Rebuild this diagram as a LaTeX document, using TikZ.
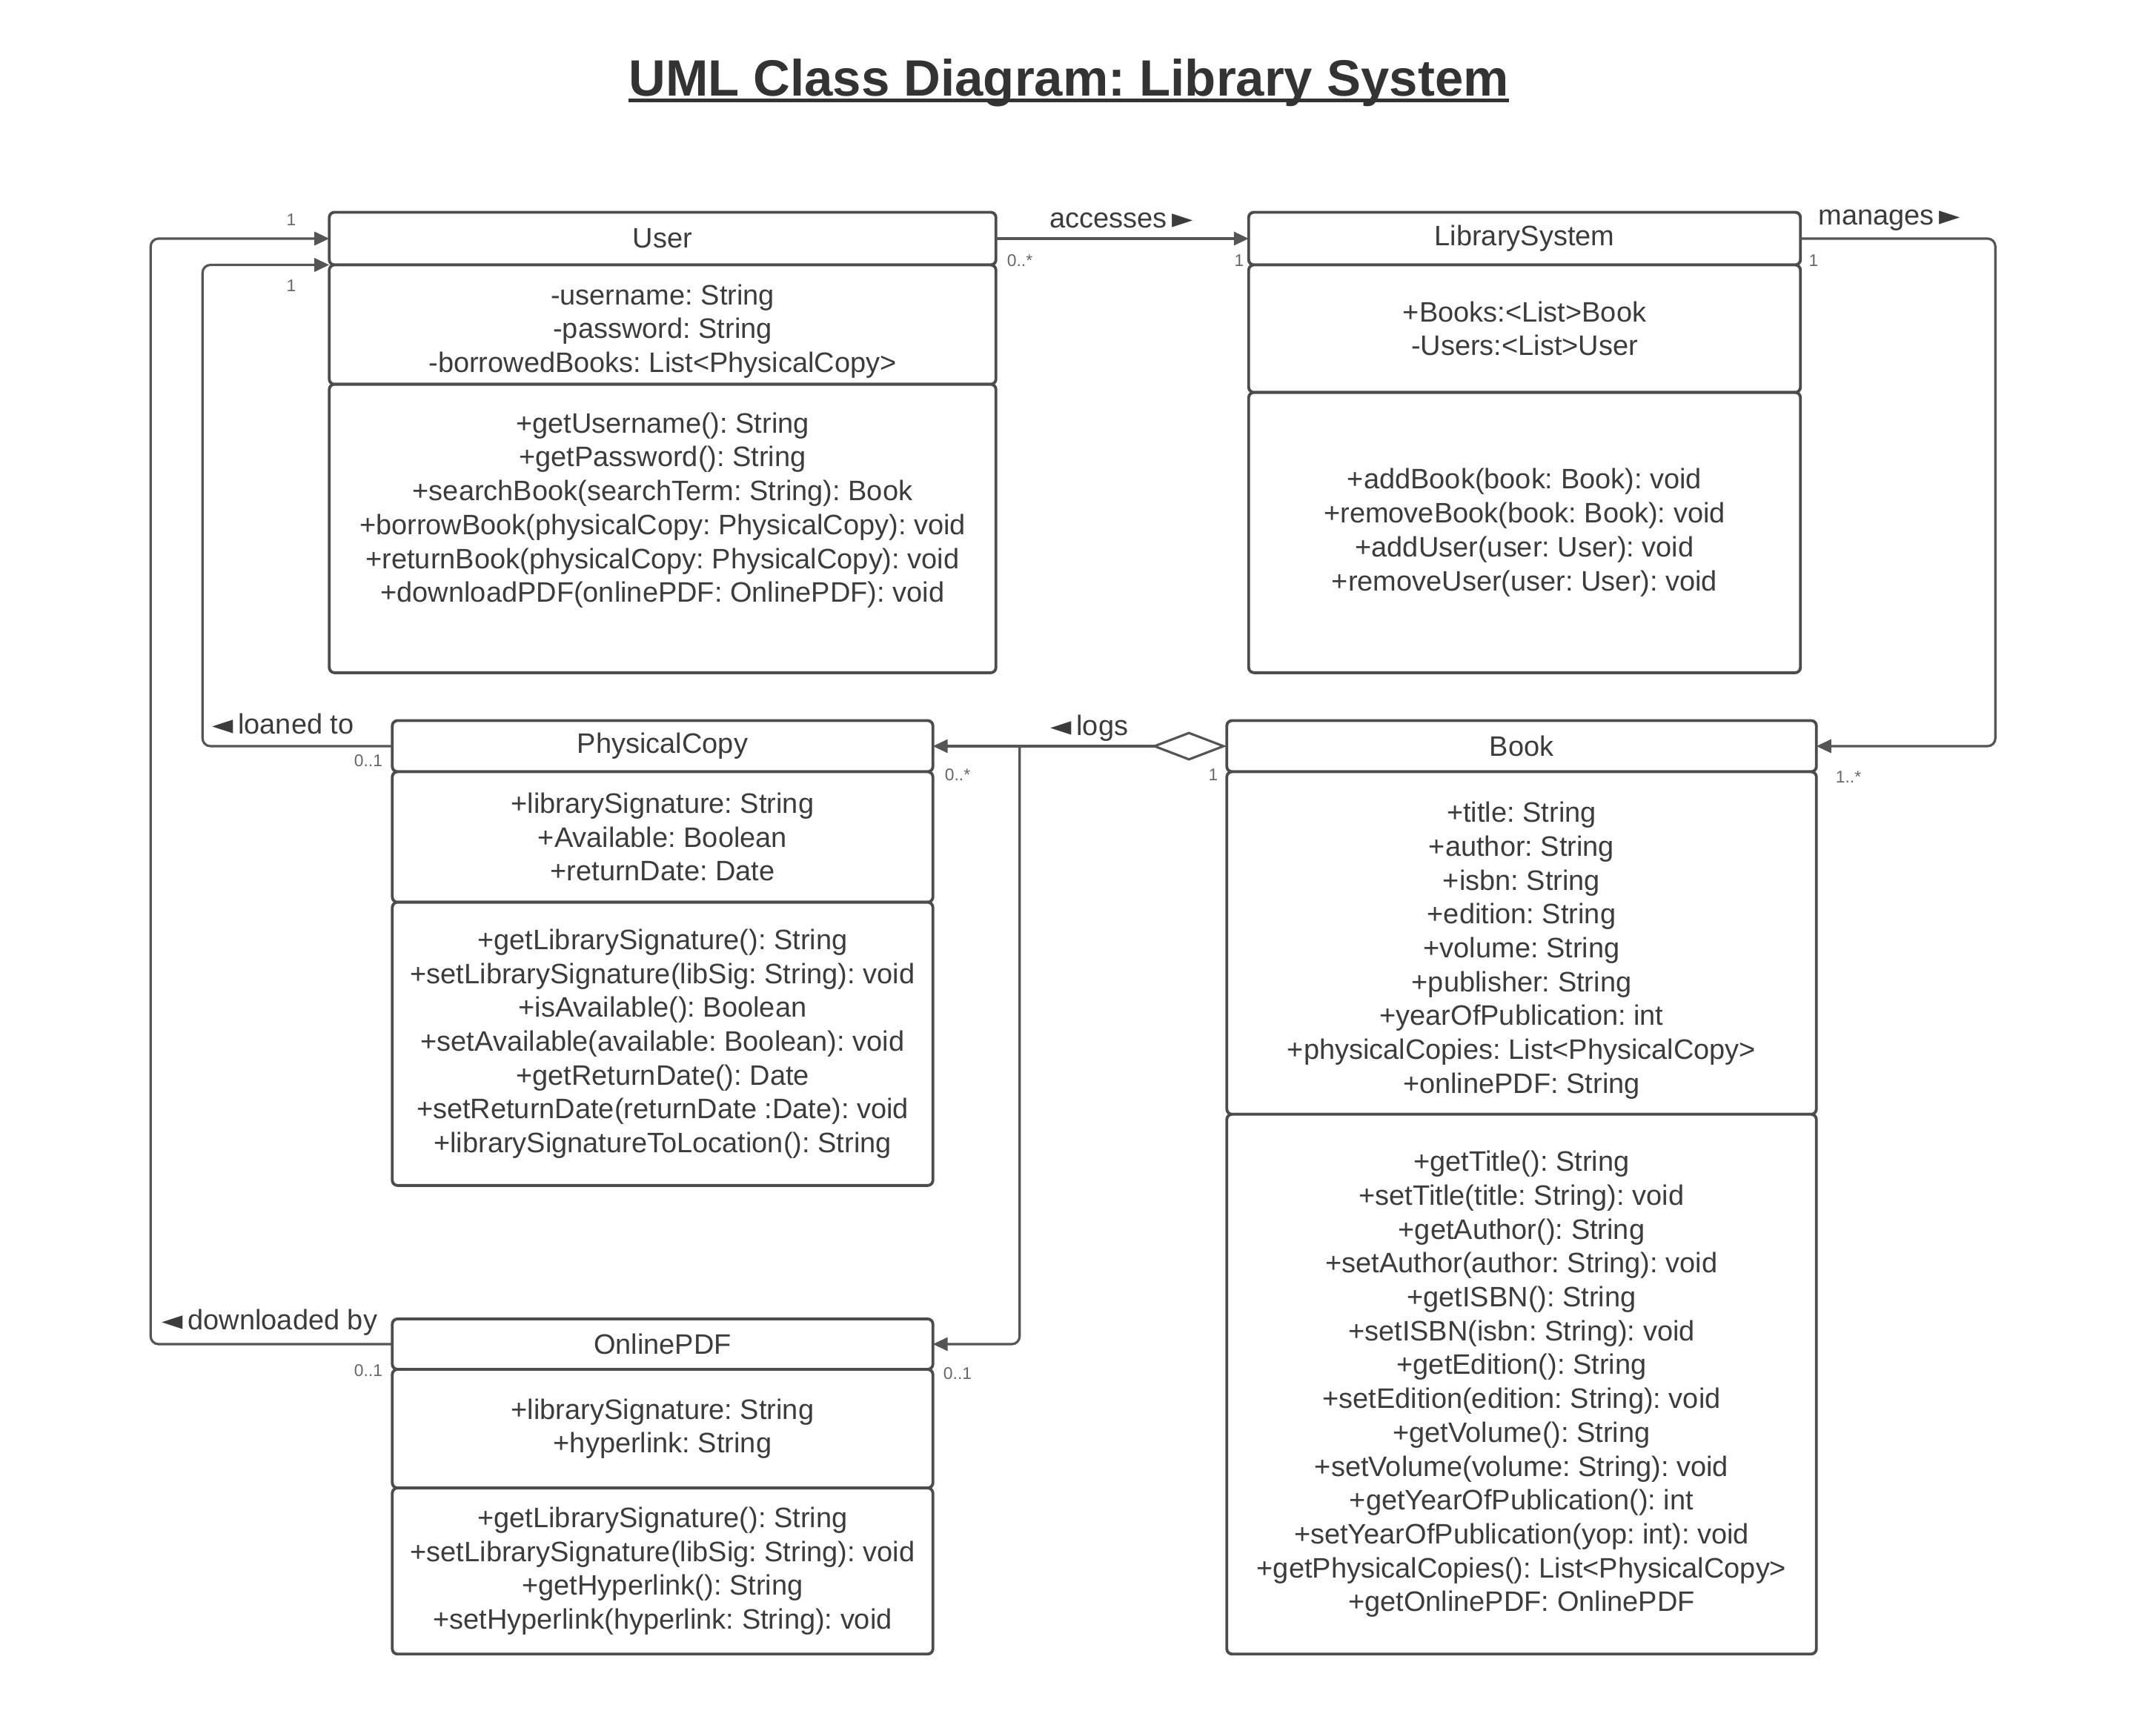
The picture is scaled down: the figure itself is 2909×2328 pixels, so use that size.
\documentclass[tikz,border=0pt]{standalone}
\usepackage{fontspec}
\setmainfont{Liberation Sans}
\newfontfamily\symfont{DejaVu Sans}
\usetikzlibrary{positioning,arrows.meta,calc}
\definecolor{umlline}{HTML}{555555}
\definecolor{umltext}{HTML}{3C3C3C}
\newcommand{\rtri}{{\symfont\fontsize{10.5}{12}\selectfont ►}}
\newcommand{\ltri}{{\symfont\fontsize{10.5}{12}\selectfont ◄}}
\frenchspacing

\begin{document}
\begin{tikzpicture}[x=0.01cm,y=-0.01cm,
    font=\fontsize{10.8}{13}\selectfont,text=umltext,
    >={Triangle[length=0.2cm,width=0.18cm]},
    box/.style={draw=black!70,line width=1.1pt,rounded corners=2pt,fill=white,
        align=center,inner sep=0pt,outer sep=0pt},
    assoc/.style={draw=umlline,line width=0.9pt,rounded corners=3pt,->},
    mult/.style={font=\fontsize{6.5}{7}\selectfont,text=black!60}]
    \useasboundingbox (0,0) rectangle (2909,2328);

    \node[anchor=base,inner sep=0pt,text=black!80,font=\fontsize{19.6}{24}\selectfont\bfseries]
        (title) at (1442,130) {UML Class Diagram: Library System};
    \draw[line width=1.6pt,black!80] ([yshift=-1.6pt]title.base west) -- ([yshift=-1.6pt]title.base east);

    % User
    \node[box,minimum width=8.99cm,minimum height=0.71cm] (user) at (894,322) {User};
    \node[box,minimum width=8.99cm,minimum height=1.61cm,below=0pt of user] (user-attr)
        {\rule{0pt}{13pt}-username: String\\-password: String\\-borrowedBooks: List<PhysicalCopy>};
    \node[box,minimum width=8.99cm,minimum height=3.89cm,below=0pt of user-attr] (user-ops)
        {+getUsername(): String\\+getPassword(): String\\+searchBook(searchTerm: String): Book\\
         +borrowBook(physicalCopy: PhysicalCopy): void\\+returnBook(physicalCopy: PhysicalCopy): void\\
         +downloadPDF(onlinePDF: OnlinePDF): void\\[0.3em]\mbox{}};

    % LibrarySystem
    \node[box,minimum width=7.44cm,minimum height=0.71cm] (libsys) at (2057,322) {LibrarySystem};
    \node[box,minimum width=7.44cm,minimum height=1.72cm,below=0pt of libsys] (libsys-attr)
        {+Books:<List>Book\\-Users:<List>User};
    \node[box,minimum width=7.44cm,minimum height=3.78cm,below=0pt of libsys-attr] (libsys-ops)
        {+addBook(book: Book): void\\+removeBook(book: Book): void\\
         +addUser(user: User): void\\+removeUser(user: User): void};

    % PhysicalCopy
    \node[box,minimum width=7.29cm,minimum height=0.69cm] (pcopy) at (894,1007) {PhysicalCopy};
    \node[box,minimum width=7.29cm,minimum height=1.76cm,below=0pt of pcopy] (pcopy-attr)
        {+librarySignature: String\\+Available: Boolean\\+returnDate: Date};
    \node[box,minimum width=7.29cm,minimum height=3.82cm,below=0pt of pcopy-attr] (pcopy-ops)
        {+getLibrarySignature(): String\\+setLibrarySignature(libSig: String): void\\
         +isAvailable(): Boolean\\+setAvailable(available: Boolean): void\\
         +getReturnDate(): Date\\+setReturnDate(returnDate :Date): void\\
         +librarySignatureToLocation(): String};

    % Book
    \node[box,minimum width=7.95cm,minimum height=0.69cm] (book) at (2053,1007) {Book};
    \node[box,minimum width=7.95cm,minimum height=4.62cm,below=0pt of book] (book-attr)
        {\rule{0pt}{13.5pt}+title: String\\+author: String\\+isbn: String\\+edition: String\\+volume: String\\
         +publisher: String\\+yearOfPublication: int\\+physicalCopies: List<PhysicalCopy>\\
         +onlinePDF: String};
    \node[box,minimum width=7.95cm,minimum height=7.28cm,below=0pt of book-attr] (book-ops)
        {+getTitle(): String\\+setTitle(title: String): void\\+getAuthor(): String\\
         +setAuthor(author: String): void\\+getISBN(): String\\+setISBN(isbn: String): void\\
         +getEdition(): String\\+setEdition(edition: String): void\\+getVolume(): String\\
         +setVolume(volume: String): void\\+getYearOfPublication(): int\\
         +setYearOfPublication(yop: int): void\\+getPhysicalCopies(): List<PhysicalCopy>\\
         +getOnlinePDF: OnlinePDF};

    % OnlinePDF
    \node[box,minimum width=7.29cm,minimum height=0.68cm] (pdf) at (894,1814) {OnlinePDF};
    \node[box,minimum width=7.29cm,minimum height=1.60cm,below=0pt of pdf] (pdf-attr)
        {+librarySignature: String\\+hyperlink: String};
    \node[box,minimum width=7.29cm,minimum height=2.24cm,below=0pt of pdf-attr] (pdf-ops)
        {+getLibrarySignature(): String\\+setLibrarySignature(libSig: String): void\\
         +getHyperlink(): String\\+setHyperlink(hyperlink: String): void};

    % associations
    \draw[assoc] (user.east) -- (libsys.west);
    \draw[assoc] (libsys.east) -- ++(263,0) |- (book.east);
    \draw[assoc,{Diamond[open,length=1.02cm,width=0.39cm]}->] (book.west) -- (pcopy.east);
    \coordinate (logsplit) at ($(pcopy.east)+(117,0)$);
    \draw[assoc] (logsplit) |- (pdf.east);
    \draw[assoc] (pcopy.west) -- ++(-256,0) |- (user.south west);
    \draw[assoc] (pdf.west) -- ++(-326,0) |- (user.west);

    \node (accesses) at (1513,297) {accesses\,\rtri};
    \node (manages) at (2549,297) {manages\,\rtri};
    \node (logs) at (1470,983) {\ltri\,logs};
    \node (loaned) at (382,977) {\ltri\,loaned to};
    \node (downloaded) at (364,1785) {\ltri\,downloaded by};

    \node[mult] (m-ua) at (1376,352) {0..*};
    \node[mult] (m-la) at (1672,352) {1};
    \node[mult] (m-lm) at (2447,352) {1};
    \node[mult] (m-bm) at (2494,1049) {1..*};
    \node[mult] (m-bl) at (1637,1046) {1};
    \node[mult] (m-pl) at (1292,1046) {0..*};
    \node[mult] (m-dl) at (1292,1854) {0..1};
    \node[mult] (m-pu) at (497,1027) {0..1};
    \node[mult] (m-ul) at (393,386) {1};
    \node[mult] (m-du) at (497,1850) {0..1};
    \node[mult] (m-ud) at (393,297) {1};
\end{tikzpicture}
\end{document}
